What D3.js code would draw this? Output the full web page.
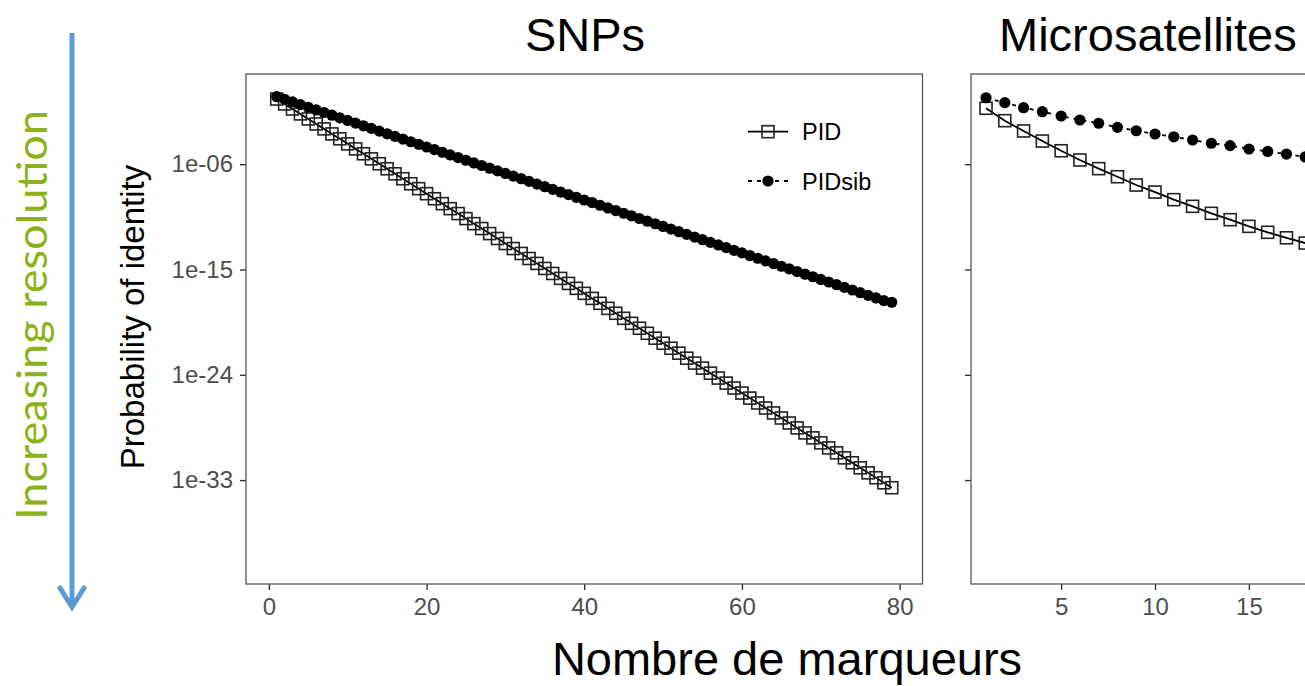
<!DOCTYPE html>
<html>
<head>
<meta charset="utf-8">
<script src="https://cdn.jsdelivr.net/npm/d3@7"></script>
<style>
  body { margin: 0; background: #fff; }
  svg { display: block; }
</style>
</head>
<body>
<div id="viz"></div>
<script>
// log10 of the probability of identity (marker 1, 2, 3 ...)
const snpPid = [-0.43, -0.85, -1.28, -1.70, -2.13, -2.56, -2.98, -3.41, -3.83, -4.26,
  -4.69, -5.11, -5.54, -5.96, -6.39, -6.82, -7.24, -7.67, -8.09, -8.52,
  -8.95, -9.37, -9.80, -10.22, -10.65, -11.08, -11.50, -11.93, -12.35, -12.78,
  -13.21, -13.63, -14.06, -14.48, -14.91, -15.34, -15.76, -16.19, -16.61, -17.04,
  -17.47, -17.89, -18.32, -18.74, -19.17, -19.60, -20.02, -20.45, -20.87, -21.30,
  -21.73, -22.15, -22.58, -23.00, -23.43, -23.86, -24.28, -24.71, -25.13, -25.56,
  -25.99, -26.41, -26.84, -27.26, -27.69, -28.12, -28.54, -28.97, -29.39, -29.82,
  -30.25, -30.67, -31.10, -31.52, -31.95, -32.38, -32.80, -33.23, -33.65];
const snpPidSib = [-0.23, -0.45, -0.68, -0.91, -1.13, -1.36, -1.58, -1.81, -2.04, -2.26,
  -2.49, -2.72, -2.94, -3.17, -3.40, -3.62, -3.85, -4.08, -4.30, -4.53,
  -4.75, -4.98, -5.21, -5.43, -5.66, -5.89, -6.11, -6.34, -6.57, -6.79,
  -7.02, -7.24, -7.47, -7.70, -7.92, -8.15, -8.38, -8.60, -8.83, -9.06,
  -9.28, -9.51, -9.74, -9.96, -10.19, -10.41, -10.64, -10.87, -11.09, -11.32,
  -11.55, -11.77, -12.00, -12.23, -12.45, -12.68, -12.90, -13.13, -13.36, -13.58,
  -13.81, -14.04, -14.26, -14.49, -14.72, -14.94, -15.17, -15.40, -15.62, -15.85,
  -16.07, -16.30, -16.53, -16.75, -16.98, -17.21, -17.43, -17.66, -17.80];
const msatPid = [-1.22, -2.28, -3.16, -4.02, -4.85, -5.64, -6.38, -7.07, -7.78, -8.38,
  -9.03, -9.60, -10.20, -10.74, -11.31, -11.82, -12.29, -12.74];
const msatPidSib = [-0.32, -0.74, -1.17, -1.51, -1.88, -2.22, -2.50, -2.85, -3.14, -3.42,
  -3.66, -3.93, -4.21, -4.41, -4.70, -4.91, -5.13, -5.38];

const yTicks = [1e-6, 1e-15, 1e-24, 1e-33];
const yTickLabels = ["1e-06", "1e-15", "1e-24", "1e-33"];
const snpXTicks = [0, 20, 40, 60, 80];
const msatXTicks = [5, 10, 15];
const panelTitles = ["SNPs", "Microsatellites"];
const legendLabels = ["PID", "PIDsib"];

const W = 1305, H = 686;
const panelTop = 74, panelBottom = 584;

const svg = d3.select("#viz").append("svg")
  .attr("width", W)
  .attr("height", H)
  .style("font-family", "Arial, 'Liberation Sans', sans-serif");

const y = d3.scaleLog()
  .domain([Math.pow(10, -41.88), Math.pow(10, 1.71)])
  .range([panelBottom, panelTop]);

function toPoints(vals) {
  return vals.map((v, i) => ({x: i + 1, p: Math.pow(10, v)}));
}

function drawPanel(left, right, xDomain, xTicks, pid, pidSib, showYLabels) {
  const x = d3.scaleLinear().domain(xDomain).range([left, right]);
  const g = svg.append("g");

  // x axis
  const xAxis = g.append("g")
    .attr("transform", `translate(0,${panelBottom})`)
    .call(d3.axisBottom(x).tickValues(xTicks).tickSize(6).tickPadding(8).tickFormat(d3.format("d")));
  xAxis.select(".domain").remove();
  xAxis.selectAll("line").attr("stroke", "#333").attr("stroke-width", 1.4);
  xAxis.selectAll("text").attr("fill", "#4d4d4d").attr("font-size", "24px")
    .attr("font-family", "Arial, 'Liberation Sans', sans-serif");

  // y axis
  const yAxis = g.append("g")
    .attr("transform", `translate(${left},0)`)
    .call(d3.axisLeft(y).tickValues(yTicks).tickSize(6).tickPadding(7)
      .tickFormat((d, i) => showYLabels ? yTickLabels[i] : ""));
  yAxis.select(".domain").remove();
  yAxis.selectAll("line").attr("stroke", "#333").attr("stroke-width", 1.4);
  yAxis.selectAll("text").attr("fill", "#4d4d4d").attr("font-size", "24px")
    .attr("font-family", "Arial, 'Liberation Sans', sans-serif");

  // panel border
  g.append("rect")
    .attr("x", left).attr("y", panelTop)
    .attr("width", right - left).attr("height", panelBottom - panelTop)
    .attr("fill", "none").attr("stroke", "#555").attr("stroke-width", 1.3);

  const line = d3.line().x(d => x(d.x)).y(d => y(d.p));
  const pidPts = toPoints(pid);
  const sibPts = toPoints(pidSib);

  g.append("path").datum(pidPts)
    .attr("d", line).attr("fill", "none")
    .attr("stroke", "#000").attr("stroke-width", 1.8);
  g.append("path").datum(sibPts)
    .attr("d", line).attr("fill", "none")
    .attr("stroke", "#000").attr("stroke-width", 1.8)
    .attr("stroke-dasharray", "4,5");

  g.append("g").selectAll("rect")
    .data(pidPts)
    .join("rect")
      .attr("x", d => x(d.x) - 6)
      .attr("y", d => y(d.p) - 6)
      .attr("width", 12).attr("height", 12)
      .attr("fill", "none").attr("stroke", "#222").attr("stroke-width", 1.6);

  g.append("g").selectAll("circle")
    .data(sibPts)
    .join("circle")
      .attr("cx", d => x(d.x))
      .attr("cy", d => y(d.p))
      .attr("r", 5.6)
      .attr("fill", "#000");

  return x;
}

drawPanel(246, 922.5, [-2.9, 82.9], snpXTicks, snpPid, snpPidSib, true);
drawPanel(971, 1647, [0.2, 36.2], msatXTicks, msatPid, msatPidSib, false);

// legend (inside the SNP panel)
const legend = svg.append("g");
const legendRows = [131.7, 181];
legendLabels.forEach((lab, i) => {
  const ly = legendRows[i];
  legend.append("line")
    .attr("x1", 748).attr("x2", 788).attr("y1", ly).attr("y2", ly)
    .attr("stroke", "#000").attr("stroke-width", 1.8)
    .attr("stroke-dasharray", i === 0 ? null : "4,5");
  if (i === 0) {
    legend.append("rect")
      .attr("x", 768 - 6).attr("y", ly - 6).attr("width", 12).attr("height", 12)
      .attr("fill", "none").attr("stroke", "#222").attr("stroke-width", 1.6);
  } else {
    legend.append("circle").attr("cx", 768).attr("cy", ly).attr("r", 5.6).attr("fill", "#000");
  }
  legend.append("text")
    .attr("x", 802).attr("y", ly + 8.5)
    .attr("font-size", "23.5px")
    .attr("fill", "#000")
    .text(lab);
});

// y axis title
svg.append("text")
  .attr("transform", "translate(144,317) rotate(-90)")
  .attr("text-anchor", "middle")
  .attr("font-size", "33px")
  .attr("fill", "#000")
  .text("Probability of identity");

// slide titles
svg.append("text")
  .attr("x", 585).attr("y", 51)
  .attr("text-anchor", "middle")
  .attr("font-size", "47px")
  .attr("fill", "#000")
  .text(panelTitles[0]);
svg.append("text")
  .attr("x", 999).attr("y", 51)
  .attr("font-size", "47px")
  .attr("fill", "#000")
  .text(panelTitles[1]);
svg.append("text")
  .attr("x", 787).attr("y", 675)
  .attr("text-anchor", "middle")
  .attr("font-size", "47px")
  .attr("fill", "#000")
  .text("Nombre de marqueurs");

// resolution arrow
svg.append("line")
  .attr("x1", 72).attr("x2", 72).attr("y1", 33).attr("y2", 606)
  .attr("stroke", "#5b9bd5").attr("stroke-width", 5);
svg.append("path")
  .attr("d", "M60,588 L72,607 L84,588")
  .attr("fill", "none").attr("stroke", "#5b9bd5").attr("stroke-width", 5)
  .attr("stroke-linecap", "round");

svg.append("text")
  .attr("transform", "translate(47,315) rotate(-90)")
  .attr("text-anchor", "middle")
  .attr("font-family", "Lato, 'Open Sans', sans-serif")
  .attr("font-weight", 400)
  .attr("font-size", "42px")
  .attr("textLength", 410)
  .attr("lengthAdjust", "spacingAndGlyphs")
  .attr("fill", "#8cb21a")
  .text("Increasing resolution");
</script>
</body>
</html>
